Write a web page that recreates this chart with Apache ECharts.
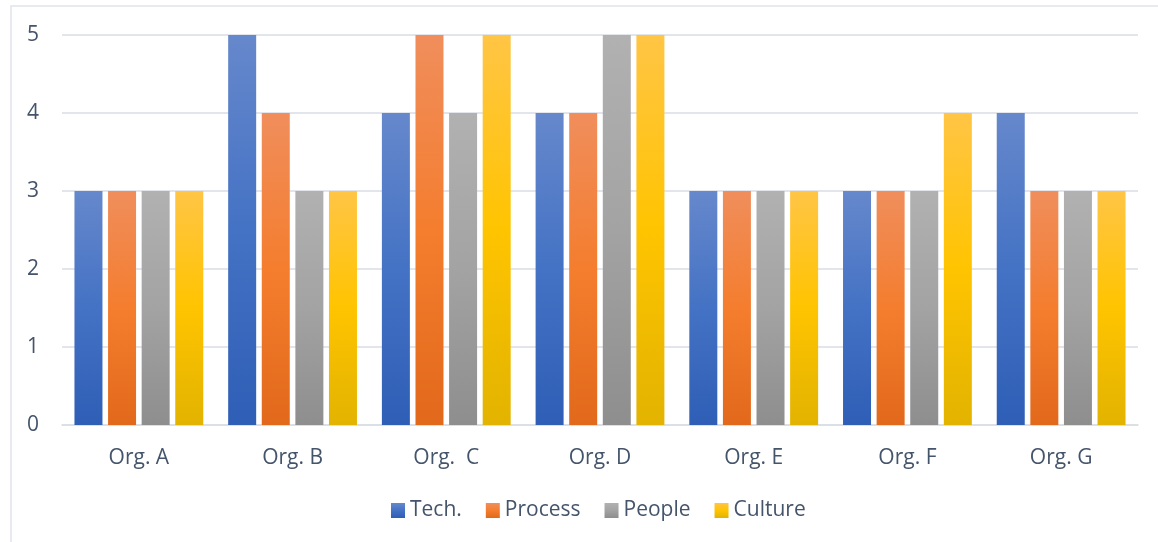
<!DOCTYPE html>
<html>
<head>
<meta charset="utf-8">
<script src="https://cdn.jsdelivr.net/npm/echarts@6/dist/echarts.min.js"></script>
<style>
  html, body { margin: 0; padding: 0; background: #fff; }
  #chart { width: 1158px; height: 542px; }
</style>
</head>
<body>
<div id="chart"></div>
<script>
let categories = ['Org. A', 'Org. B', 'Org.  C', 'Org. D', 'Org. E', 'Org. F', 'Org. G'];
let tech = [3, 5, 4, 4, 3, 3, 4];
let process = [3, 4, 5, 4, 3, 3, 3];
let people = [3, 3, 4, 5, 3, 3, 3];
let culture = [3, 3, 5, 5, 3, 4, 3];
let yTicks = [0, 1, 2, 3, 4, 5];

let textColor = '#44546a';
let fontName = '"Open Sans", sans-serif';

// excel-ish three stop gradients: light top, base middle, dark bottom
function grad(top, mid, bottom) {
    return new echarts.graphic.LinearGradient(0, 0, 0, 1, [
        { offset: 0, color: top },
        { offset: 0.5, color: mid },
        { offset: 1, color: bottom }
    ]);
}

function barSeries(name, data, color) {
    return {
        name: name,
        type: 'bar',
        data: data,
        barWidth: 28,
        barGap: '20%',
        itemStyle: { color: color }
    };
}

const dom = document.getElementById('chart');
const myChart = echarts.init(dom);

const option = {
    animation: false,
    backgroundColor: '#fff',
    textStyle: { fontFamily: fontName },
    graphic: [{
        type: 'rect',
        shape: { x: 11, y: 6, width: 1160, height: 560 },
        style: { fill: 'none', stroke: '#dfe3ea', lineWidth: 1.5 },
        silent: true
    }],
    grid: {
        left: 62,
        right: 20,
        top: 35,
        bottom: 117
    },
    legend: {
        bottom: 16,
        left: 386,
        itemWidth: 14,
        itemHeight: 15,
        itemGap: 24,
        icon: 'rect',
        textStyle: { color: textColor, fontSize: 21, fontFamily: fontName },
        data: ['Tech.', 'Process', 'People', 'Culture']
    },
    xAxis: {
        type: 'category',
        data: categories,
        axisTick: { show: false },
        axisLine: { lineStyle: { color: '#d9dde5', width: 1.5 } },
        axisLabel: {
            color: textColor,
            fontSize: 21,
            margin: 23,
            fontFamily: fontName
        }
    },
    yAxis: {
        type: 'value',
        min: yTicks[0],
        max: yTicks[yTicks.length - 1],
        interval: 1,
        axisLine: { show: false },
        axisTick: { show: false },
        axisLabel: {
            color: textColor,
            fontSize: 21,
            margin: 23,
            fontFamily: fontName
        },
        splitLine: { lineStyle: { color: '#d9dde5', width: 1.5 } }
    },
    series: [
        barSeries('Tech.', tech, grad('#6688cc', '#4472c4', '#2e5eb6')),
        barSeries('Process', process, grad('#f08e5c', '#f47d2e', '#e2691b')),
        barSeries('People', people, grad('#b1b1b1', '#a3a3a3', '#8e8e8e')),
        barSeries('Culture', culture, grad('#ffc545', '#ffc400', '#e2b300'))
    ]
};

myChart.setOption(option, true);
</script>
</body>
</html>
